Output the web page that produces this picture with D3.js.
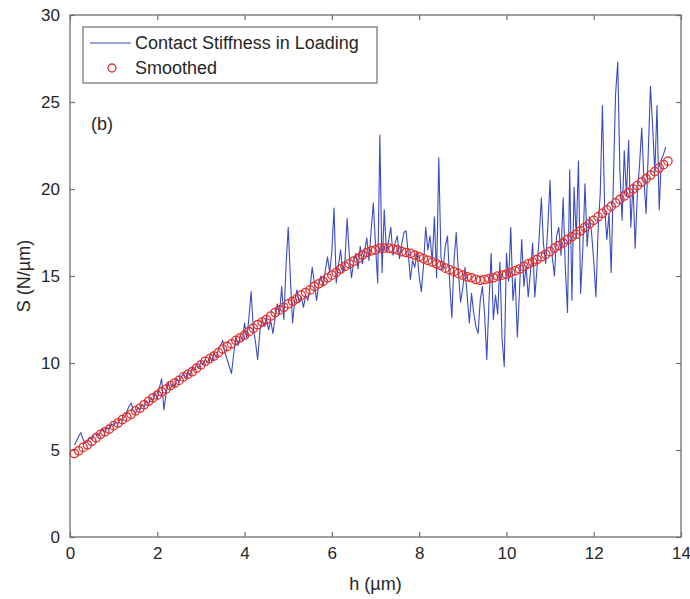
<!DOCTYPE html>
<html>
<head>
<meta charset="utf-8">
<script src="https://cdn.jsdelivr.net/npm/d3@7"></script>
<style>
  html, body { margin: 0; padding: 0; background: #fff; }
  svg { display: block; font-family: "Liberation Sans", Arial, Helvetica, sans-serif; }
</style>
</head>
<body>
<svg id="chart" width="690" height="599"></svg>
<script>
// ---- Data ----
const hStart = 0.1, hStep = 0.05;           // sampling grid of the raw signal (µm)
const rawS = [
  5.3,5.5,5.8,6.0,5.6,5.4,5.5,5.7,5.6,5.9,
  6.0,5.8,6.1,6.2,6.0,6.3,6.2,6.5,6.4,6.6,
  6.5,6.8,6.7,6.9,7.2,7.5,7.7,7.3,7.1,7.4,
  7.3,7.6,7.5,7.8,7.6,8.0,7.8,8.3,7.9,8.6,
  9.1,7.3,8.2,8.9,8.5,8.8,8.6,9.1,8.9,9.2,
  9.4,9.1,9.5,9.3,9.7,9.6,9.9,9.7,10.1,9.9,
  10.2,10.0,10.4,10.1,10.6,10.3,10.8,11.0,11.3,10.6,
  10.2,9.8,9.4,10.5,11.5,11.0,11.6,11.3,12.3,11.4,
  12.6,14.1,12.0,11.2,10.2,11.8,12.5,12.1,12.6,11.9,
  12.4,11.7,12.6,13.4,12.8,14.4,12.5,15.6,17.8,14.9,
  12.3,13.6,14.2,13.5,13.8,13.2,13.9,13.6,14.3,15.5,
  14.6,13.6,14.5,15.0,14.4,15.3,16.1,15.2,16.4,18.9,
  14.6,15.6,16.5,15.2,15.9,18.3,16.2,14.9,15.8,16.3,
  15.4,16.7,15.7,16.4,17.2,15.9,17.6,19.2,16.8,14.6,
  23.1,15.2,18.8,16.4,17.0,17.8,16.2,16.9,17.3,16.0,
  16.8,17.5,17.6,16.3,14.8,15.9,15.5,16.4,15.0,14.1,
  15.6,17.8,16.5,17.3,15.8,18.4,14.9,21.8,16.1,15.4,
  16.7,17.3,14.6,12.6,15.9,17.5,15.2,13.5,14.3,15.5,
  13.9,12.3,14.0,12.9,12.1,11.7,13.6,14.4,12.8,10.2,
  13.5,16.3,12.5,13.9,12.8,15.8,11.4,9.8,16.3,14.7,
  17.8,13.6,14.9,11.5,14.2,17.1,14.4,15.6,13.8,15.2,
  16.9,13.8,15.4,17.2,19.5,16.8,15.7,17.9,20.5,16.1,
  15.0,17.3,17.8,16.2,19.5,15.4,12.9,21.1,13.6,20.1,
  17.2,21.6,14.0,16.5,20.3,16.7,18.4,17.5,15.9,13.8,
  17.6,19.8,24.8,19.0,17.1,18.6,15.2,20.4,25.4,27.3,
  21.0,18.2,22.2,19.6,22.8,17.8,20.3,16.6,19.7,21.4,
  23.5,20.6,18.6,22.1,25.9,23.6,20.9,24.8,18.8,21.7,
  22.0,22.4
];
const smoothStart = 0.1, smoothStep = 0.1;  // sampling grid of the smoothed curve (µm)
const smoothS = [
  4.8,4.95,5.15,5.3,5.5,5.7,5.9,6.05,6.2,6.4,
  6.55,6.75,6.9,7.05,7.25,7.4,7.6,7.8,8.0,8.15,
  8.35,8.5,8.7,8.85,9.0,9.2,9.35,9.5,9.7,9.9,
  10.1,10.25,10.4,10.6,10.8,10.95,11.1,11.3,11.45,11.6,
  11.8,12.0,12.2,12.35,12.5,12.7,12.9,13.05,13.2,13.4,
  13.55,13.7,13.9,14.05,14.2,14.4,14.55,14.7,14.9,15.05,
  15.2,15.4,15.55,15.7,15.85,16.0,16.2,16.35,16.45,16.5,
  16.6,16.6,16.6,16.55,16.5,16.4,16.35,16.3,16.2,16.1,
  16.0,15.9,15.8,15.7,15.6,15.45,15.35,15.25,15.15,15.05,
  14.95,14.9,14.8,14.75,14.8,14.85,14.9,15.0,15.05,15.1,
  15.2,15.3,15.4,15.55,15.7,15.8,15.95,16.1,16.25,16.4,
  16.6,16.75,16.9,17.1,17.25,17.4,17.6,17.8,18.0,18.2,
  18.4,18.6,18.8,19.0,19.2,19.4,19.6,19.8,20.0,20.2,
  20.4,20.6,20.8,21.0,21.2,21.4,21.6
];
const xTicks = [0, 2, 4, 6, 8, 10, 12, 14];
const yTicks = [0, 5, 10, 15, 20, 25, 30];
const seriesNames = ["Contact Stiffness in Loading", "Smoothed"];
const xLabel = "h (µm)";
const yLabel = "S (N/µm)";
const panelLabel = "(b)";

const raw = rawS.map((s, i) => ({ h: +(hStart + i * hStep).toFixed(3), s }));
const smooth = smoothS.map((s, i) => ({ h: +(smoothStart + i * smoothStep).toFixed(3), s }));

// ---- Layout ----
const svg = d3.select("#chart");
const L = 70, R = 681, T = 15, B = 537;
const x = d3.scaleLinear().domain([0, 14]).range([L, R]);
const y = d3.scaleLinear().domain([0, 30]).range([B, T]);

const axisColor = "#6f6f6f";
const textColor = "#262626";
const fs = 18;
const tickFs = 17;

// frame
svg.append("rect").attr("x", L).attr("y", T).attr("width", R - L).attr("height", B - T)
  .attr("fill", "none").attr("stroke", axisColor).attr("stroke-width", 1.3);

// ticks
const tl = 5;
const gb = svg.append("g").attr("transform", `translate(0,${B})`)
  .call(d3.axisBottom(x).tickValues(xTicks).tickSizeInner(-tl).tickSizeOuter(0).tickPadding(10).tickFormat(d3.format("d")));
const gt = svg.append("g").attr("transform", `translate(0,${T})`)
  .call(d3.axisTop(x).tickValues(xTicks).tickSizeInner(-tl).tickSizeOuter(0).tickFormat(""));
const gl = svg.append("g").attr("transform", `translate(${L},0)`)
  .call(d3.axisLeft(y).tickValues(yTicks).tickSizeInner(-tl).tickSizeOuter(0).tickPadding(10).tickFormat(d3.format("d")));
const gr = svg.append("g").attr("transform", `translate(${R},0)`)
  .call(d3.axisRight(y).tickValues(yTicks).tickSizeInner(-tl).tickSizeOuter(0).tickFormat(""));
[gb, gt, gl, gr].forEach(g => {
  g.select(".domain").remove();
  g.selectAll(".tick line").attr("stroke", axisColor).attr("stroke-width", 1.2);
  g.selectAll(".tick text").attr("fill", textColor).attr("font-size", tickFs)
    .attr("font-family", "'Liberation Sans', Arial, sans-serif");
});
// keep the last x label inside the page
gb.selectAll(".tick text").filter(d => d === 14).attr("text-anchor", "end").attr("dx", "0.55em");

// raw line
const line = d3.line().x(d => x(d.h)).y(d => y(d.s));
svg.append("path").datum(raw).attr("d", line)
  .attr("fill", "none").attr("stroke", "#3b4cc0").attr("stroke-width", 1.1)
  .attr("stroke-linejoin", "round");

// smoothed circles
svg.append("g").selectAll("circle").data(smooth).join("circle")
  .attr("cx", d => x(d.h)).attr("cy", d => y(d.s)).attr("r", 4.2)
  .attr("fill", "none").attr("stroke", "#e0302e").attr("stroke-width", 1.3);

// axis labels
svg.append("text").attr("x", (L + R) / 2).attr("y", 590).attr("text-anchor", "middle")
  .attr("fill", textColor).attr("font-size", fs).text(xLabel);
svg.append("text").attr("transform", `translate(30,${(T + B) / 2}) rotate(-90)`)
  .attr("text-anchor", "middle").attr("fill", textColor).attr("font-size", fs).text(yLabel);

// panel label
svg.append("text").attr("x", 91).attr("y", 130).attr("fill", textColor)
  .attr("font-size", fs).text(panelLabel);

// legend
const lg = svg.append("g");
lg.append("rect").attr("x", 83).attr("y", 27).attr("width", 294).attr("height", 56)
  .attr("fill", "#fff").attr("stroke", axisColor).attr("stroke-width", 1.2);
lg.append("line").attr("x1", 90).attr("x2", 131).attr("y1", 43).attr("y2", 43)
  .attr("stroke", "#3b4cc0").attr("stroke-width", 1.1);
lg.append("circle").attr("cx", 112).attr("cy", 68).attr("r", 4)
  .attr("fill", "none").attr("stroke", "#e0302e").attr("stroke-width", 1.3);
lg.selectAll("text.leg").data(seriesNames).join("text").attr("class", "leg")
  .attr("x", 135).attr("y", (d, i) => 49 + i * 25)
  .attr("fill", textColor).attr("font-size", fs).text(d => d);
</script>
</body>
</html>
